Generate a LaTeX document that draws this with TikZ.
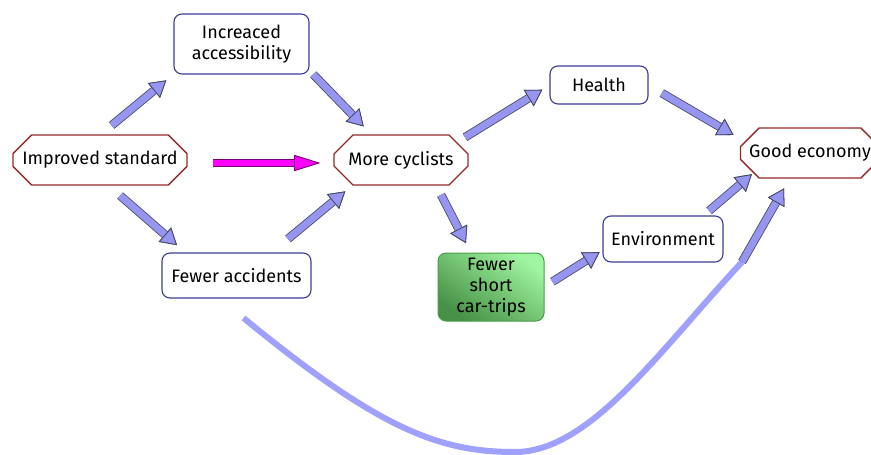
\documentclass[tikz,border=0pt]{standalone}
\usepackage{fontspec}
\setmainfont{Fira Sans}
\usepackage{xcolor}
\definecolor{octline}{RGB}{150,40,40}
\definecolor{boxline}{RGB}{60,60,150}
\definecolor{arrowfill}{RGB}{150,150,240}
\definecolor{arrowline}{RGB}{70,70,100}
\definecolor{curvefill}{RGB}{160,160,255}
\definecolor{pinkfill}{RGB}{255,0,255}
\definecolor{pinkline}{RGB}{120,0,120}
\definecolor{triplight}{RGB}{160,245,160}
\definecolor{tripdark}{RGB}{70,145,70}
\definecolor{tripline}{RGB}{70,160,70}
\usetikzlibrary{shapes.misc,arrows.meta}

\begin{document}
\begin{tikzpicture}[x=1pt,y=-1pt,
    every node/.style={font=\fontsize{18}{21}\selectfont, align=center, inner sep=0pt, outer sep=0pt},
    octbox/.style={chamfered rectangle, chamfered rectangle xsep=10pt, chamfered rectangle ysep=10pt,
      draw=octline, line width=1.3pt},
    roundbox/.style={rectangle, rounded corners=8pt, draw=boxline, line width=1.1pt},
    tripbox/.style={rectangle, rounded corners=8pt, draw=tripline, line width=1pt,
      top color=triplight, bottom color=tripdark, shading angle=-35},
    flow/.style={draw=arrowfill, line width=7pt, preaction={draw=arrowline, line width=8.6pt},
      -{Triangle[length=16pt,width=19pt,color=arrowline,fill=arrowfill,line width=0.8pt]}},
    pinkflow/.style={draw=pinkfill, line width=6.5pt, preaction={draw=pinkline, line width=8pt},
      -{Triangle[length=26pt,width=16pt,color=pinkline,fill=pinkfill,line width=0.8pt]}},
    bigcurve/.style={draw=curvefill, line width=6pt}]
    \fill[white] (0,0) rectangle (871,455);
    \useasboundingbox (0,0) rectangle (871,455);

    %  left half
    \node[octbox, minimum width=174pt, minimum height=50pt] (std) at (100,160) {Improved standard};
    \node[roundbox, minimum width=135pt, minimum height=60pt] (acc) at (241.5,44) {Increaced\\accessibility};
    \node[roundbox, minimum width=149pt, minimum height=45pt] (few) at (236.5,275.5) {Fewer accidents};
    \node[octbox, minimum width=134pt, minimum height=50pt] (cyc) at (401,160) {More cyclists};

    %  right half
    \node[roundbox, minimum width=98pt, minimum height=38pt] (hea) at (599,85) {Health};
    \node[tripbox, minimum width=106pt, minimum height=68pt] (trip) at (491,287) {Fewer\\short\\car-trips};
    \node[roundbox, minimum width=120pt, minimum height=46pt] (env) at (663,239) {Environment};
    \node[octbox, minimum width=126pt, minimum height=50pt] (eco) at (810,153) {Good economy};

    %  arrows into more cyclists
    \draw[flow, shorten <=15pt, shorten >=10pt] (std.north) -- (acc.south west);
    \draw[flow, shorten <=6pt, shorten >=12pt] ([yshift=4pt]acc.south east) -- ([xshift=-29pt]cyc.north);
    \draw[pinkflow, shorten <=26pt, shorten >=14pt] ([yshift=-3pt]std.east) -- ([yshift=-3pt]cyc.west);
    \draw[flow, shorten <=16pt, shorten >=12pt] ([xshift=8pt]std.south) -- ([xshift=24pt]few.north west);
    \draw[flow, shorten <=22pt, shorten >=10pt] ([xshift=-40pt]few.north east) -- ([xshift=-48pt]cyc.south);

    %  arrows into good economy
    \draw[flow, shorten <=7pt, shorten >=9pt] ([xshift=58pt,yshift=-6pt]cyc.north) -- (hea.west);
    \draw[flow, shorten <=11pt, shorten >=11pt] ([xshift=35pt]cyc.south) -- ([xshift=-20pt]trip.north);
    \draw[flow, shorten <=16pt, shorten >=8pt] (hea.east) -- ([yshift=14pt]eco.west);
    \draw[flow, shorten <=10pt, shorten >=4pt] (trip.east) -- ([yshift=-11pt]env.west);
    \draw[flow, shorten <=8pt, shorten >=8pt] ([xshift=-20pt]env.north east) -- ([xshift=-52pt,yshift=9pt]eco.south);

    %  long way round under the picture
    \coordinate (curvestart) at ([xshift=7pt,yshift=-20pt]few.south);
    \coordinate (curvebend) at ([xshift=19pt]env.south east);
    \draw[bigcurve] (curvestart) .. controls (380,430) and (440,452) .. (515,452)
      .. controls (590,452) and (660,350) .. (curvebend);
    \draw[flow, shorten >=12pt] (curvebend) -- ([xshift=-20pt]eco.south);
\end{tikzpicture}
\end{document}
